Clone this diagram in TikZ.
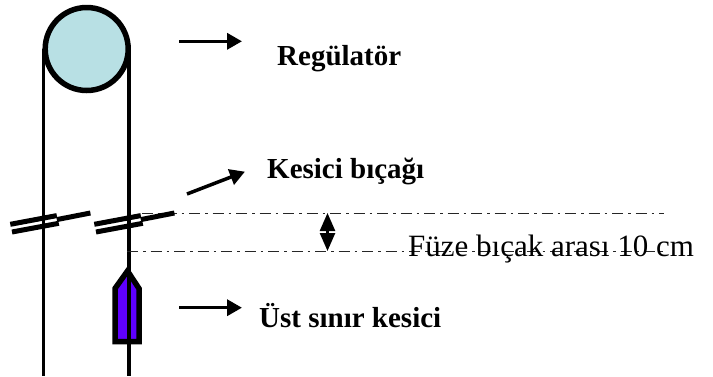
\documentclass[tikz,border=0pt]{standalone}
\usepackage{fontspec}
\setmainfont{Liberation Serif}
\usetikzlibrary{arrows.meta}
\tikzset{
  wire/.style={line width=3.3pt,black},
  ptr/.style={line width=3.5pt,black,-{Triangle[length=15pt,width=16pt]},shorten >=-1pt},
  blade/.style={line width=5pt,black},
  guide/.style={line width=1.4pt,black!85,dash pattern=on 11pt off 5pt on 2.5pt off 5pt},
  lblb/.style={font=\fontsize{29}{33}\selectfont\bfseries,anchor=base west,inner sep=0pt},
  lbl/.style={font=\fontsize{31}{35}\selectfont,anchor=base west,inner sep=0pt},
}
\begin{document}
\begin{tikzpicture}[x=1pt,y=-1pt]
\useasboundingbox (0,0) rectangle (713,376);
% pulley and wires
\coordinate (wl0) at (43.5,49); \coordinate (wl1) at (43.5,376);
\coordinate (wr0) at (129,49);  \coordinate (wr1) at (129,376);
\draw[wire] (wl0) -- (wl1);
\draw[wire] (wr0) -- (wr1);
\node[circle,draw=black,fill=cyan!0,line width=5.5pt,minimum size=83pt,inner sep=0pt,fill={rgb,255:red,184;green,224;blue,228}] (reg) at (86.7,49) {};
% guides
\coordinate (g1a) at (142,213.3); \coordinate (g1b) at (664,213.3);
\coordinate (g2a) at (127,251.3); \coordinate (g2b) at (664,251.3);
\draw[guide] (g1a) -- (g1b);
\draw[guide] (g2a) -- (g2b);
% blades
\foreach \dx/\nm in {0/a,84/b}{
  \begin{scope}[xshift=\dx pt]
  \coordinate (\nm1) at (10.3,224.3); \coordinate (\nm2) at (56.8,215.6);
  \coordinate (\nm3) at (12,232);     \coordinate (\nm4) at (58.8,223.3);
  \coordinate (\nm5) at (56.8,219.6); \coordinate (\nm6) at (90.4,213);
  \draw[blade] (\nm1) -- (\nm2);
  \draw[blade] (\nm3) -- (\nm4);
  \draw[blade] (\nm5) -- (\nm6);
  \end{scope}
}
% fuse
\draw[line width=5.5pt,black,fill={rgb,255:red,95;green,0;blue,255},miter limit=3]
  (127.5,271) -- (139,288.5) -- (139,341.5) -- (115,341.5) -- (115,288.5) -- cycle;
\draw[wire] (129,255) -- (129,350);
% labels
\node[lblb] (t1) at (277,65) {Regülatör};
\node[lblb] (t2) at (267,178) {Kesici bıçağı};
\node[lblb] (t3) at (259,327) {Üst sınır kesici};
\node[lbl] (t4) at (408,256) {Füze bıçak arası 10 cm};
% pointers
\coordinate (p1a) at (179,41.3);  \coordinate (p1b) at (241,41.3);
\coordinate (p2a) at (187,194);   \coordinate (p2b) at (244,172);
\coordinate (p3a) at (179,307.7); \coordinate (p3b) at (241,307.7);
\draw[ptr] (p1a) -- (p1b);
\draw[ptr] (p2a) -- (p2b);
\draw[ptr] (p3a) -- (p3b);
% distance arrow
\coordinate (d1) at (327.5,213); \coordinate (d2) at (327.5,251);
\draw[line width=2.5pt,black,{Triangle[length=18pt,width=15pt]}-{Triangle[length=18pt,width=15pt]}] (d1) -- (d2);
\end{tikzpicture}
\end{document}
